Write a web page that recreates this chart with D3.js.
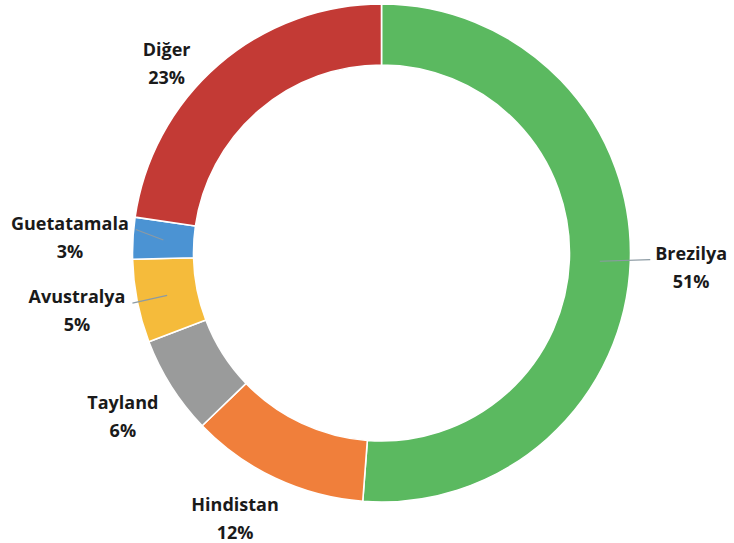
<!DOCTYPE html>
<html>
<head>
<meta charset="utf-8">
<script src="https://cdn.jsdelivr.net/npm/d3@7"></script>
<style>
  html, body { margin: 0; padding: 0; background: #ffffff; }
  svg { display: block; }
  text { font-family: "Open Sans", "Lato", sans-serif; font-weight: 700; fill: #1a1a1a; }
</style>
</head>
<body>
<svg id="chart" width="734" height="543"></svg>
<script>
// ---- data ----
const categories = ["Brezilya", "Hindistan", "Tayland", "Avustralya", "Guetatamala", "Diğer"];
const values = [51.2, 11.6, 6.4, 5.4, 2.7, 22.7];
const colors = ["#5bb960", "#f07f3b", "#9a9b9b", "#f5bb3b", "#4b93d3", "#c33a35"];
// label placement (polar, around the donut centre), degrees clockwise from top
const labelAngle = [92.7, 208.8, 237.7, 259.2, 272.85, 311.3];
const labelRadius = [310, 304, 306, 310, 312, 286];
const hasLeader = [true, false, false, true, true, false];

// ---- layout ----
const W = 734, H = 543;
const cx = 381.5, cy = 253;
const outerR = 249, innerR = 188;

const svg = d3.select("#chart");
const g = svg.append("g").attr("transform", `translate(${cx},${cy})`);

const total = d3.sum(values);
const data = categories.map((c, i) => ({ name: c, value: values[i], color: colors[i], i }));

const pie = d3.pie().value(d => d.value).sort(null);
const arcs = pie(data);
const arc = d3.arc().innerRadius(innerR).outerRadius(outerR);
const midArc = d3.arc().innerRadius((innerR + outerR) / 2).outerRadius((innerR + outerR) / 2);

g.selectAll("path.slice")
  .data(arcs)
  .join("path")
  .attr("class", "slice")
  .attr("d", arc)
  .attr("fill", d => d.data.color)
  .attr("stroke", "#ffffff")
  .attr("stroke-width", 1.6)
  .attr("stroke-linejoin", "round");

const rad = a => a * Math.PI / 180;
const fontSize = 18, lineGap = 28;

arcs.forEach(d => {
  const i = d.data.i;
  const a = rad(labelAngle[i]);
  const lx = labelRadius[i] * Math.sin(a);
  const ly = -labelRadius[i] * Math.cos(a);
  const t = g.append("text")
    .attr("text-anchor", "middle")
    .attr("font-size", fontSize);
  const y1 = ly - lineGap / 2 + 6;
  t.append("tspan").attr("x", lx).attr("y", y1).text(d.data.name);
  t.append("tspan").attr("x", lx).attr("y", y1 + lineGap)
    .text(Math.round(d.data.value / total * 100) + "%");

  if (hasLeader[i]) {
    const w = t.select("tspan").node().getComputedTextLength();
    const [sx, sy] = midArc.centroid(d);
    const onRight = lx > 0;
    const ex = onRight ? lx - w / 2 - 5 : lx + w / 2 + 7;
    const ey = ly - 8;
    g.insert("line", "text")
      .attr("x1", sx).attr("y1", sy)
      .attr("x2", ex).attr("y2", ey)
      .attr("stroke", "#8c9aa3")
      .attr("stroke-width", 1.2);
  }
});
</script>
</body>
</html>
